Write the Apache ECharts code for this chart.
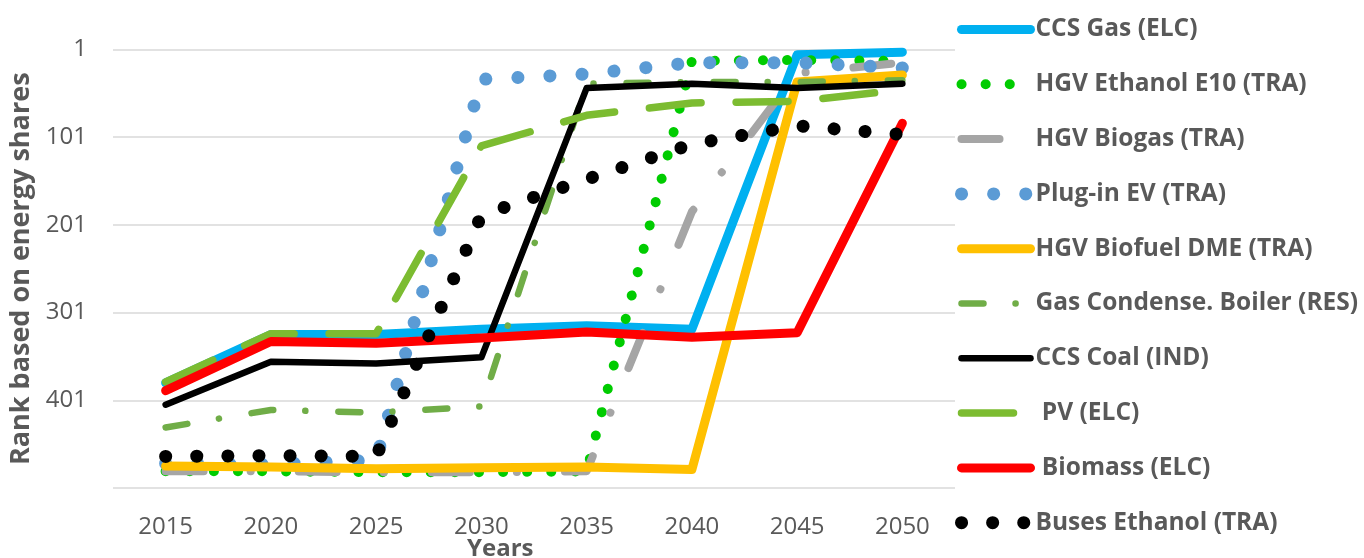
<!DOCTYPE html>
<html>
<head>
<meta charset="utf-8">
<title>Rank based on energy shares</title>
<script src="https://cdn.jsdelivr.net/npm/echarts@6/dist/echarts.min.js"></script>
<style>
  html, body { margin: 0; padding: 0; background: #fff; }
  #chart { width: 1364px; height: 558px; }
</style>
</head>
<body>
<div id="chart"></div>
<script>
// years on the x axis
const years = ['2015', '2020', '2025', '2030', '2035', '2040', '2045', '2050']

// rank values (1 = best)
const ccsGasElc = [381, 326, 326, 320, 316, 320, 7, 4]
const hgvEthanolE10 = [482, 482, 483, 483, 482, 14, 13, 14]
const hgvBiogas = [482, 482, 483, 483, 482, 186, 28, 16]
const pluginEv = [473, 474, 469, 35, 29, 16, 16, 22]
const hgvBiofuelDme = [476, 477, 479, 478, 477, 480, 38, 30]
const gasCondenseBoiler = [432, 412, 415, 408, 40, 38, 38, 36]
const ccsCoalInd = [406, 357, 359, 352, 45, 40, 45, 40]
const pvElc = [380, 325, 325, 111, 76, 62, 60, 47]
const biomassElc = [390, 334, 336, 330, 323, 329, 324, 85]
const busesEthanol = [465, 464, 465, 190, 149, 109, 88, 98]

const seriesDefs = [
  { name: 'CCS Gas (ELC)', data: ccsGasElc, color: '#00B0F0', width: 9, type: 'solid' },
  { name: 'HGV Ethanol E10 (TRA)', data: hgvEthanolE10, color: '#00CC00', width: 10, type: [0.1, 24] },
  { name: 'HGV Biogas (TRA)', data: hgvBiogas, color: '#A5A5A5', width: 8, type: [38, 47, 0.1, 48] },
  { name: 'Plug-in EV (TRA)', data: pluginEv, color: '#5B9BD5', width: 13, type: [0.1, 32] },
  { name: 'HGV Biofuel DME (TRA)', data: hgvBiofuelDme, color: '#FFC000', width: 9, type: 'solid' },
  { name: 'Gas Condense. Boiler (RES)', data: gasCondenseBoiler, color: '#70AD47', width: 6.5, type: [22, 32, 0.1, 33] },
  { name: 'CCS Coal (IND)', data: ccsCoalInd, color: '#000000', width: 6.5, type: 'solid' },
  { name: ' PV (ELC)', data: pvElc, color: '#7CBC31', width: 7.5, type: [52, 35] },
  { name: ' Biomass (ELC)', data: biomassElc, color: '#FF0000', width: 9, type: 'solid' },
  { name: 'Buses Ethanol (TRA)', data: busesEthanol, color: '#000000', width: 13, type: [0.1, 31] }
]

const textColor = '#595959'
const fontFamily = '"Open Sans", "DejaVu Sans", sans-serif'

const chart = echarts.init(document.getElementById('chart'))

const option = {
  animation: false,
  backgroundColor: '#fff',
  grid: {
    left: 113,
    right: 409,
    top: 49.5,
    bottom: 70,
    containLabel: false,
    outerBoundsMode: 'none'
  },
  legend: {
    orient: 'vertical',
    left: 955,
    top: 17,
    padding: 0,
    itemWidth: 69,
    itemHeight: 14,
    itemGap: 29.8,
    selectedMode: false,
    itemStyle: { opacity: 0, borderWidth: 0 },
    lineStyle: { width: 'inherit' },
    textStyle: {
      color: textColor,
      fontSize: 24.5,
      fontWeight: 'bold',
      fontFamily: fontFamily,
      lineHeight: 24
    },
    data: seriesDefs.map(s => s.name)
  },
  graphic: [
    {
      type: 'text',
      left: 467,
      top: 537,
      style: {
        text: 'Years',
        fill: textColor,
        font: 'bold 24px ' + fontFamily
      }
    }
  ],
  xAxis: {
    type: 'category',
    data: years,
    boundaryGap: true,
    axisLine: { show: false },
    axisTick: { show: false },
    axisLabel: {
      color: textColor,
      fontSize: 24,
      fontFamily: fontFamily,
      margin: 27
    },
    splitLine: { show: false }
  },
  yAxis: {
    type: 'value',
    inverse: true,
    min: 1,
    max: 501,
    interval: 100,
    name: 'Rank based on energy shares',
    nameLocation: 'middle',
    nameGap: 78,
    nameTextStyle: {
      color: textColor,
      fontSize: 27,
      fontWeight: 'bold',
      fontFamily: fontFamily
    },
    axisLine: { show: false },
    axisTick: { show: false },
    axisLabel: {
      color: textColor,
      fontSize: 24,
      fontFamily: fontFamily,
      margin: 26,
      showMaxLabel: false
    },
    splitLine: {
      show: true,
      lineStyle: { color: '#D9D9D9', width: 1.5 }
    }
  },
  series: seriesDefs.map(s => ({
    name: s.name,
    type: 'line',
    data: s.data,
    symbol: 'none',
    showSymbol: false,
    silent: true,
    itemStyle: { color: s.color },
    lineStyle: {
      color: s.color,
      width: s.width,
      type: s.type,
      cap: 'round',
      join: 'round'
    },
    emphasis: { disabled: true }
  }))
}

chart.setOption(option)
</script>
</body>
</html>
